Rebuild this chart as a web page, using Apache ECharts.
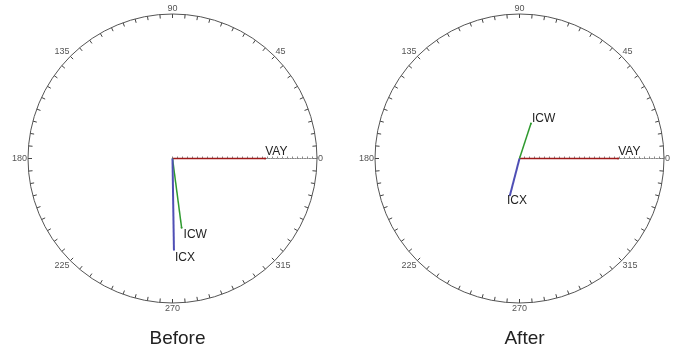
<!DOCTYPE html>
<html>
<head>
<meta charset="utf-8">
<script src="https://cdn.jsdelivr.net/npm/echarts@6/dist/echarts.min.js"></script>
<style>
html,body{margin:0;padding:0;background:#fff;}
#c{width:677px;height:348px;}
</style>
</head>
<body>
<div id="c"></div>
<script>
// ---- data ----
var phasors = ['VAY', 'ICW', 'ICX'];
var beforeMag = [18.6, 14.0, 18.3];
var beforeAng = [0, 277.5, 270.9];
var afterMag = [19.8, 7.4, 7.6];
var afterAng = [0, 71.9, 255.4];
var angleTickLabels = [0, 45, 90, 135, 180, 225, 270, 315];
var panelTitles = ['Before', 'After'];

// ---- styles ----
var colors = { VAY: '#9e1a1a', ICW: '#2f9a2f', ICX: '#4f4fb5' };
var widths = { VAY: 1.5, ICW: 1.5, ICX: 2 };
var labelOffsets = [
  { VAY: [0, -7], ICW: [2, 7], ICX: [1, 8] },
  { VAY: [0, -6.5], ICW: [1, -5], ICX: [-3, 6] }
];
var centers = [[172.5, 158.5], [519.5, 158.5]];
var R = 144.5;
var FONT = 'Liberation Sans, Arial, sans-serif';

function polarCfg(c) {
  return { center: c, radius: R };
}
function angleAxisCfg(i) {
  return {
    polarIndex: i, type: 'value', min: 0, max: 360, interval: 45,
    startAngle: 0, clockwise: false,
    axisLine: { show: true, lineStyle: { color: '#555', width: 1 } },
    axisTick: { show: true, inside: true, length: 4, lineStyle: { color: '#444' } },
    minorTick: { show: true, splitNumber: 9, length: 4, lineStyle: { color: '#444' } },
    splitLine: { show: false },
    minorSplitLine: { show: false },
    axisLabel: {
      show: true, margin: 1, fontSize: 9, color: '#555', fontFamily: FONT,
      formatter: function (v) { return angleTickLabels.indexOf(v) >= 0 && v !== 360 ? String(v) : ''; }
    }
  };
}
function radiusAxisCfg(i) {
  return {
    polarIndex: i, type: 'value', min: 0, max: 29, interval: 1,
    axisLine: { show: true, lineStyle: { color: '#888', type: 'dotted', width: 1.2 } },
    axisTick: { show: true, length: 2, lineStyle: { color: '#888' } },
    axisLabel: { show: false },
    splitLine: { show: false }
  };
}

var series = [];
[[beforeMag, beforeAng], [afterMag, afterAng]].forEach(function (set, p) {
  phasors.forEach(function (name, k) {
    series.push({
      type: 'line', coordinateSystem: 'polar', polarIndex: p, name: name,
      z: name === 'VAY' ? 3 : 4,
      showSymbol: true, symbol: 'circle', animation: false,
      lineStyle: { color: colors[name], width: widths[name] },
      itemStyle: { color: colors[name] },
      data: [
        { value: [0, set[1][k]], symbolSize: 0 },
        {
          value: [set[0][k], set[1][k]], symbolSize: 2,
          label: {
            show: true, formatter: name, position: 'inside', align: 'left',
            verticalAlign: 'middle', offset: labelOffsets[p][name],
            fontSize: 12, color: '#222', fontFamily: FONT
          }
        }
      ]
    });
  });
});

var option = {
  backgroundColor: '#fff',
  animation: false,
  title: panelTitles.map(function (t, i) {
    return {
      text: t, left: centers[i][0], top: 324, textAlign: 'center',
      textStyle: { fontSize: 19, fontWeight: 'normal', color: '#222', fontFamily: FONT }
    };
  }),
  polar: centers.map(polarCfg),
  angleAxis: [angleAxisCfg(0), angleAxisCfg(1)],
  radiusAxis: [radiusAxisCfg(0), radiusAxisCfg(1)],
  series: series
};

var chart = echarts.init(document.getElementById('c'), null, { renderer: 'canvas' });
chart.setOption(option);
</script>
</body>
</html>
